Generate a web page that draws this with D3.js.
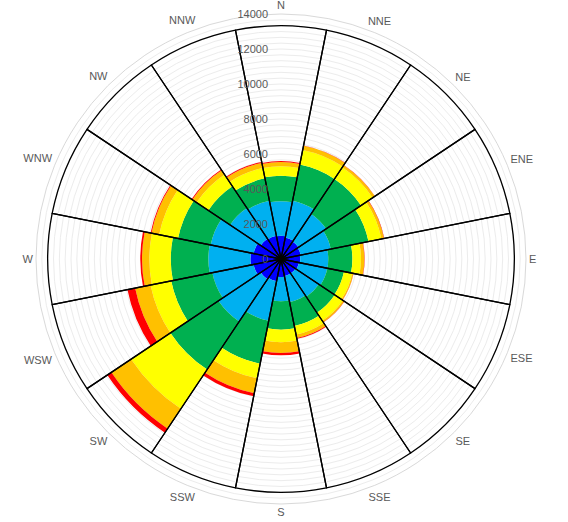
<!DOCTYPE html>
<html><head><meta charset="utf-8">
<script src="https://cdn.jsdelivr.net/npm/d3@7/dist/d3.min.js"></script>
<style>html,body{margin:0;padding:0;background:#fff;}svg{display:block;}</style>
</head><body>
<svg id="c" width="568" height="522"></svg>
<script>
const directions = ["N","NNE","NE","ENE","E","ESE","SE","SSE","S","SSW","SW","WSW","W","WNW","NW","NNW"];
const seriesColors = ["#0000FF","#00B0F0","#00B050","#FFFF00","#FFC000","#FF0000"];
const s1 = [1330,1250,1200,1150,1100,1050,1000,1000,1030,1300,1400,1600,1750,1600,1400,1350];
const s2 = [1970,2150,1900,1750,1600,1650,1600,1500,1390,2300,2900,2400,2400,2500,2100,2050];
const s3 = [1460,2100,2400,2200,1380,970,1090,1400,1620,2500,3300,2400,2150,1900,1500,1300];
const s4 = [540,850,800,750,490,480,560,500,710,850,2700,1200,1220,1100,800,600];
const s5 = [240,250,150,150,190,70,100,200,620,870,1360,900,420,450,300,300];
const s6 = [60,20,10,20,20,10,10,50,130,180,280,450,100,50,50,50];
const frameValue = 13333;
const tickValues = [0,2000,4000,6000,8000,10000,12000,14000];
const maxValue = 14000;

const svg = d3.select("#c");
const cx = 281, cy = 259, R = 245;
const r = d3.scaleLinear().domain([0, maxValue]).range([0, R]);
const step = 2 * Math.PI / directions.length;
const g = svg.append("g").attr("transform", `translate(${cx},${cy})`);

// gridlines
const minor = d3.range(1, 43).map(i => i * 2000 / 6);
g.selectAll("circle.grid").data(minor).join("circle")
  .attr("r", d => r(d)).attr("fill", "none")
  .attr("stroke", d => Math.abs(d - maxValue) < 1 ? "#d9d9d9" : "#ececec")
  .attr("stroke-width", 1);

// stacked bars
const series = [s1, s2, s3, s4, s5, s6];
const arc = d3.arc();
directions.forEach((dname, i) => {
  let acc = 0;
  series.forEach((s, k) => {
    const v0 = acc, v1 = acc + s[i];
    acc = v1;
    g.append("path")
      .attr("d", arc({innerRadius: r(v0), outerRadius: r(v1), startAngle: (i - 0.5) * step, endAngle: (i + 0.5) * step}))
      .attr("fill", seriesColors[k]);
  });
});

// frame wedges
directions.forEach((dname, i) => {
  g.append("path")
    .attr("d", arc({innerRadius: 0, outerRadius: r(frameValue), startAngle: (i - 0.5) * step, endAngle: (i + 0.5) * step}))
    .attr("fill", "none").attr("stroke", "#000").attr("stroke-width", 1.3).attr("stroke-linejoin", "round");
});

// tick labels
g.selectAll("text.tick").data(tickValues).join("text")
  .attr("x", -13).attr("y", d => -r(d)).attr("dy", "0.35em")
  .attr("text-anchor", "end")
  .attr("font-family", "Liberation Sans, Arial, sans-serif").attr("font-size", 11)
  .attr("fill", "#595959").text(d => d);

// direction labels
directions.forEach((dname, i) => {
  const a = i * step;
  const sx = Math.sin(a), sy = -Math.cos(a);
  const t = g.append("text").attr("text-anchor", "middle").attr("dy", "0.35em")
    .attr("font-family", "Liberation Sans, Arial, sans-serif").attr("font-size", 11)
    .attr("fill", "#595959").text(dname);
  const w = t.node().getComputedTextLength(), h = 11;
  const rr = 248 + Math.abs(sx) * w / 2 + Math.abs(sy) * h / 2;
  t.attr("x", sx * rr).attr("y", sy * rr);
});
</script>
</body></html>
